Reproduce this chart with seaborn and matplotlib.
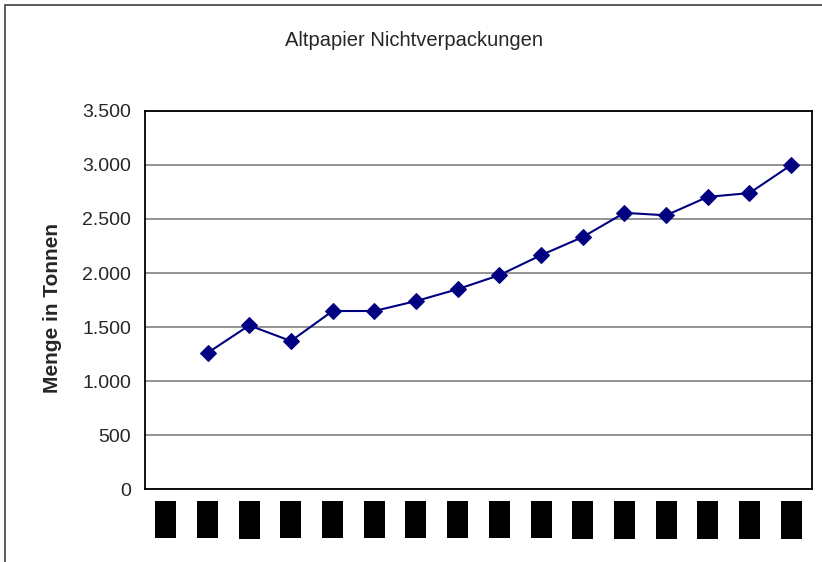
import matplotlib
matplotlib.use("Agg")
import matplotlib.pyplot as plt
from matplotlib.patches import Rectangle
from matplotlib.ticker import FuncFormatter, MultipleLocator
import seaborn as sns
import pandas as pd
import numpy as np

# data (first category has no value)
years = [str(y) for y in range(1990, 2006)]
tonnen = [np.nan, 1260, 1515, 1370, 1648, 1648, 1740, 1850, 1980, 2165,
          2333, 2557, 2534, 2705, 2740, 3000]

df = pd.DataFrame({"pos": np.arange(len(years)), "Jahr": years, "Menge": tonnen})

sns.set_style("white")
plt.rcParams["font.family"] = ["Liberation Sans", "DejaVu Sans"]

fig = plt.figure(figsize=(8.22, 5.62), dpi=100)
ax = fig.add_axes([145 / 822, 1 - 489 / 562, (812 - 145) / 822, (489 - 111) / 562])

sns.lineplot(
    data=df.dropna(), x="pos", y="Menge",
    color="#000080", linewidth=1.5,
    marker="D", markersize=8.5, markeredgecolor="#000080",
    ax=ax
)

ax.set_xlim(-0.5, len(years) - 0.5)
ax.set_ylim(0, 3500)
ax.yaxis.set_major_locator(MultipleLocator(500))
ax.yaxis.set_major_formatter(FuncFormatter(lambda v, p: f"{int(v):,}".replace(",", ".")))
ax.grid(axis="y", color="#808080", linewidth=1.2)
ax.set_axisbelow(True)

# category labels centred, tick marks on the boundaries
ax.set_xticks(df["pos"])
ax.set_xticklabels(df["Jahr"], rotation=90, fontsize=10, color="black", va="top")
ax.set_xticks(np.arange(-0.5, len(years)), minor=True)
ax.tick_params(axis="x", which="major", length=0, pad=11)
ax.tick_params(axis="x", which="minor", length=5, width=1, color="black", direction="out")
ax.tick_params(axis="y", length=6, width=1, color="black", direction="out", labelsize=14, pad=4)
for t in ax.get_xticklabels():
    t.set_bbox(dict(facecolor="black", edgecolor="none", pad=2.5))

for s in ax.spines.values():
    s.set_color("black")
    s.set_linewidth(1.3)

ax.set_xlabel("")
ax.set_ylabel("Menge in Tonnen", fontsize=15, fontweight="bold")
ax.yaxis.set_label_coords((62 - 145) / 667, 0.48)
fig.text(414 / 822, 1 - 41 / 562, "Altpapier Nichtverpackungen", fontsize=14.5,
         ha="center", va="center")

# outer chart frame, running off the right and bottom edges
fig.patches.append(Rectangle((5 / 822, -0.1), 1.2, 1.1 - 5 / 562,
                             transform=fig.transFigure, fill=False,
                             edgecolor="#404040", linewidth=1.2))

fig.savefig("out.png", dpi=100)
